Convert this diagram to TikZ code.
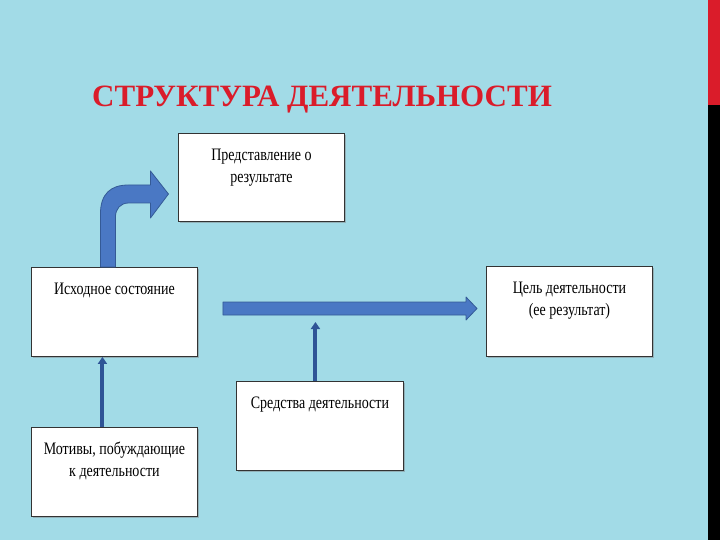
\documentclass[tikz,border=0pt]{standalone}
\usepackage{fontspec}
\setmainfont{Liberation Serif}
\newfontfamily\boxfont[FakeStretch=0.8]{Liberation Serif}
\usetikzlibrary{arrows.meta,shadows}
\definecolor{bgc}{RGB}{162,219,231}
\definecolor{titlered}{RGB}{218,28,42}
\definecolor{arrfill}{RGB}{74,120,196}
\definecolor{arrline}{RGB}{52,90,150}
\definecolor{thinarr}{RGB}{46,84,150}
\tikzset{
  box/.style={draw=black!80, line width=0.9pt, fill=white, inner sep=0pt, anchor=north west,
    drop shadow={shadow xshift=1.5pt, shadow yshift=-1.5pt, opacity=0.45}},
  bigarrow/.style={fill=arrfill, draw=arrline, line width=0.8pt, line join=round},
  thinarrow/.style={draw=thinarr, line width=4pt, -{Triangle[length=7pt,width=9pt]}},
}
\newcommand{\boxtext}[3]{\parbox[c][#2pt][t]{#1pt}{\centering\boxfont\fontsize{17.5}{22}\selectfont\rule{0pt}{27pt}#3\par}}
\begin{document}
\begin{tikzpicture}[x=1pt,y=-1pt]
\useasboundingbox (0,0) rectangle (720,540);
\fill[bgc] (0,0) rectangle (708,540);
\fill[titlered] (708,0) rectangle (720,105);
\fill[black] (708,105) rectangle (720,540);
% title
\node[anchor=base west, inner sep=0pt, text=titlered, font=\bfseries\fontsize{31}{36}\selectfont] (title) at (92,107) {СТРУКТУРА ДЕЯТЕЛЬНОСТИ};
% boxes
\node[box] (pred) at (178,133) {\boxtext{166}{88}{Представление о\\результате}};
\node[box] (isx) at (31,267) {\boxtext{166}{89}{Исходное состояние}};
\node[box] (cel) at (486,266) {\boxtext{166}{90}{Цель деятельности\\(ее результат)}};
\node[box] (sred) at (236,381) {\boxtext{167}{89}{Средства деятельности}};
\node[box] (mot) at (31,427) {\boxtext{166}{89}{Мотивы, побуждающие\\к деятельности}};
% bent arrow from isx to pred
\coordinate (bentstart) at ([xshift=-6.5]isx.north);
\path[bigarrow] ([xshift=-7.5]bentstart) -- ++(0,-53)
  .. controls ++(0,-20) and ++(-18,0) .. ++(28,-29) -- ++(22,0) -- ++(0,-14)
  -- ++(18,23) -- ++(-18,24) -- ++(0,-15) -- ++(-22,0)
  .. controls ++(-8,0) and ++(0,-8) .. ++(-13,14) -- ([xshift=7.5]bentstart) -- cycle;
% horizontal arrow from isx to cel
\coordinate (hstart) at ([xshift=25]isx.east |- 0,308.5);
\coordinate (htip) at ([xshift=-9]cel.west |- 0,308.5);
\path[bigarrow] ([yshift=-6.5]hstart) -- ([xshift=-11,yshift=-6.5]htip) -- ([xshift=-11,yshift=-11.5]htip)
  -- (htip) -- ([xshift=-11,yshift=11.5]htip) -- ([xshift=-11,yshift=6.5]htip) -- ([yshift=6.5]hstart) -- cycle;
% thin arrows
\coordinate (hbottom) at ([xshift=-4.5]sred.north |- 0,322);
\draw[thinarrow] ([xshift=-4.5]sred.north) -- (hbottom);
\draw[thinarrow] ([xshift=-12]mot.north) -- ([xshift=-12]isx.south);
\end{tikzpicture}
\end{document}
